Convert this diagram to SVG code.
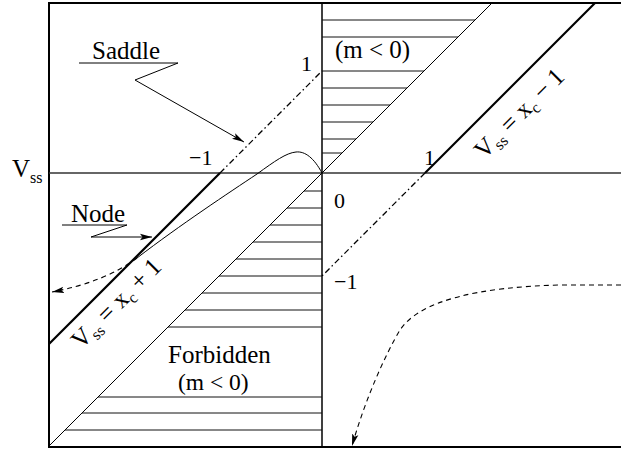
<svg xmlns="http://www.w3.org/2000/svg" width="621" height="455" viewBox="0 0 621 455">
<defs>
<style>
.frame{stroke:#000;stroke-width:2;fill:none}
.axis{stroke:#333;stroke-width:1.3;fill:none}
.thin{stroke:#000;stroke-width:1;fill:none}
.thick{stroke:#000;stroke-width:2.2;fill:none}
.hatch{stroke:#111;stroke-width:1;fill:none}
.dashdot{stroke:#000;stroke-width:1.3;fill:none;stroke-dasharray:6 3 1.5 3}
.dashed{stroke:#000;stroke-width:1.1;fill:none;stroke-dasharray:5 4}
text{font-family:"Liberation Serif","Times New Roman",serif;fill:#000}
.lbl{font-size:25px}
.num{font-size:22px}
.sub{font-size:16px}
</style>
<marker id="arr" markerUnits="userSpaceOnUse" markerWidth="14" markerHeight="8" refX="12" refY="4" orient="auto">
<path d="M0,0.8 L12,4 L0,7.2 L2.5,4 z" fill="#000"/>
</marker>
</defs>

<g id="frame">
<line class="frame" x1="49" y1="3" x2="621" y2="3"/>
<line class="frame" x1="49" y1="2" x2="49" y2="448"/>
<line class="frame" x1="48" y1="447" x2="621" y2="447"/>
<line class="axis" x1="49" y1="173" x2="621" y2="173"/>
<line class="frame" style="stroke-width:1.5" x1="322" y1="3" x2="322" y2="447"/>
</g>

<g id="hatch-upper">
<line class="hatch" x1="322" y1="20" x2="475" y2="20"/>
<line class="hatch" x1="322" y1="37" x2="458" y2="37"/>
<line class="hatch" x1="322" y1="71" x2="424" y2="71"/>
<line class="hatch" x1="322" y1="88" x2="407" y2="88"/>
<line class="hatch" x1="322" y1="105" x2="390" y2="105"/>
<line class="hatch" x1="322" y1="122" x2="373" y2="122"/>
<line class="hatch" x1="322" y1="139" x2="356" y2="139"/>
<line class="hatch" x1="322" y1="153" x2="342" y2="153"/>
</g>

<g id="hatch-lower">
<line class="hatch" x1="304" y1="191" x2="322" y2="191"/>
<line class="hatch" x1="287" y1="208" x2="322" y2="208"/>
<line class="hatch" x1="270" y1="225" x2="322" y2="225"/>
<line class="hatch" x1="253" y1="242" x2="322" y2="242"/>
<line class="hatch" x1="236" y1="259" x2="322" y2="259"/>
<line class="hatch" x1="219" y1="276" x2="322" y2="276"/>
<line class="hatch" x1="202" y1="293" x2="322" y2="293"/>
<line class="hatch" x1="185" y1="310" x2="322" y2="310"/>
<line class="hatch" x1="168" y1="327" x2="322" y2="327"/>
<line class="hatch" x1="98" y1="397" x2="322" y2="397"/>
<line class="hatch" x1="82" y1="413" x2="322" y2="413"/>
<line class="hatch" x1="65" y1="430" x2="322" y2="430"/>
</g>

<g id="lines">
<line class="thin" x1="49" y1="446" x2="492" y2="3"/>
<line class="thick" x1="49" y1="344" x2="220" y2="173"/>
<line class="dashdot" x1="220" y1="173" x2="322" y2="71"/>
<line class="thick" x1="425" y1="173" x2="595" y2="3"/>
<line class="dashdot" x1="425" y1="173" x2="322" y2="276"/>
</g>

<g id="connectors">
<path class="thin" d="M322,173 C314,158 305,151 296,152 C286,153 275,161 257,174 C230,192 180,225 137,258"/>
<path class="dashed" d="M137,258 Q105,282 52,292" marker-end="url(#arr)"/>
<path class="dashed" d="M621,285 L560,285 C480,287 420,300 400,330 C385,355 365,400 352,446" marker-end="url(#arr)"/>
<path class="thin" d="M79,63 L178,63 L135,80 L244,142" marker-end="url(#arr)"/>
<path class="thin" d="M62,225 L127,225 L91,237 L152,237" marker-end="url(#arr)"/>
</g>

<g id="labels">
<text class="lbl" x="92" y="59">Saddle</text>
<text class="lbl" x="71" y="222">Node</text>
<text class="lbl" x="168" y="363">Forbidden</text>
<text class="lbl" style="font-size:23.5px" x="178" y="390">(m &lt; 0)</text>
<text class="lbl" x="335" y="58">(m &lt; 0)</text>
<text class="lbl" x="12" y="177">V<tspan class="sub" dy="6">ss</tspan></text>
<text class="num" x="301" y="71">1</text>
<text class="num" x="189" y="165">−1</text>
<text class="num" x="334" y="208">0</text>
<text class="num" x="334" y="289">−1</text>
<text class="num" x="424" y="165">1</text>
<text class="lbl" transform="translate(484,160) rotate(-45)">V<tspan class="sub" dy="5">ss</tspan><tspan dy="-5"> = x</tspan><tspan class="sub" dy="5">c</tspan><tspan dy="-5"> − 1</tspan></text>
<text class="lbl" transform="translate(81,350) rotate(-45)">V<tspan class="sub" dy="5">ss</tspan><tspan dy="-5"> = x</tspan><tspan class="sub" dy="5">c</tspan><tspan dy="-5"> + 1</tspan></text>
</g>
</svg>
